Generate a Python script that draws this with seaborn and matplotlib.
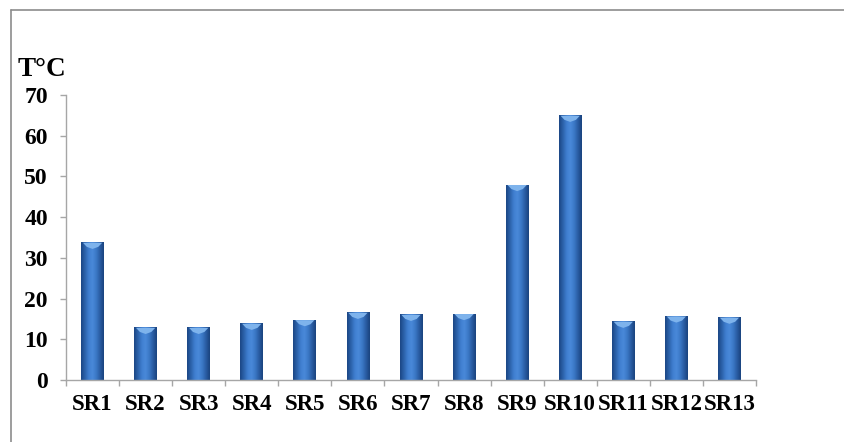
import numpy as np
import pandas as pd
import matplotlib
matplotlib.use("Agg")
import matplotlib.pyplot as plt
from matplotlib.colors import LinearSegmentedColormap
from matplotlib.patches import Polygon
from matplotlib.lines import Line2D
from matplotlib.ticker import FixedLocator
import seaborn as sns

# Temperatures per sampling site
sites = ["SR1", "SR2", "SR3", "SR4", "SR5", "SR6", "SR7",
         "SR8", "SR9", "SR10", "SR11", "SR12", "SR13"]
temperature = [33.7, 12.8, 12.8, 13.8, 14.7, 16.5, 16.0,
               16.2, 47.9, 64.9, 14.3, 15.6, 15.3]
y_ticks = [0, 10, 20, 30, 40, 50, 60, 70]
y_label = "T°C"

sns.set_theme(style="white")
plt.rcParams["font.family"] = ["Liberation Serif", "DejaVu Serif"]
plt.rcParams["font.weight"] = "bold"

df = pd.DataFrame({"site": sites, "temp": temperature})

fig = plt.figure(figsize=(8.44, 4.42), dpi=100)
ax = fig.add_axes([0.0782, 0.1403, 0.8175, 0.6447])

sns.barplot(data=df, x="site", y="temp", color="#3d78c6", width=0.43,
            ax=ax, saturation=1)

# Cylinder-like shading on every bar
shade = LinearSegmentedColormap.from_list(
    "cyl", ["#1b4684", "#2c62aa", "#3f7ecf", "#4a8ada", "#3b78c6", "#2a5da3", "#1a437e"])
grad = np.linspace(0, 1, 64).reshape(1, -1)
for bar in ax.patches:
    x0, w = bar.get_x(), bar.get_width()
    h = bar.get_height()
    bar.set_facecolor("none")
    bar.set_edgecolor("none")
    ax.imshow(grad, cmap=shade, aspect="auto", extent=(x0, x0 + w, 0, h),
              zorder=2, interpolation="bicubic")
    d = 1.0
    cap = Polygon([(x0 + w * 0.08, h), (x0 + w * 0.92, h), (x0 + w * 0.75, h - d),
                   (x0 + w * 0.5, h - d * 1.5), (x0 + w * 0.25, h - d)],
                  closed=True, facecolor="#7eb3ec", edgecolor="none", zorder=3)
    ax.add_patch(cap)

ax.set_xlim(-0.5, len(sites) - 0.5)
ax.set_ylim(0, 70)
ax.set_yticks(y_ticks)
ax.set_xlabel("")
ax.set_ylabel("")

axis_gray = "#a6a6a6"
for side in ["top", "right"]:
    ax.spines[side].set_visible(False)
for side in ["left", "bottom"]:
    ax.spines[side].set_visible(True)
    ax.spines[side].set_color(axis_gray)
    ax.spines[side].set_linewidth(1.0)

ax.xaxis.set_minor_locator(FixedLocator(np.arange(-0.5, len(sites), 1.0)))
ax.tick_params(axis="x", which="major", length=0, pad=10, labelsize=16.5,
               labelcolor="black")
ax.tick_params(axis="x", which="minor", length=4.5, width=1, color=axis_gray,
               direction="out", bottom=True)
ax.tick_params(axis="y", which="major", length=4.5, width=1, color=axis_gray,
               direction="out", left=True, pad=8.5, labelsize=17, labelcolor="black")
for lab in ax.get_xticklabels() + ax.get_yticklabels():
    lab.set_fontweight("bold")

fig.text(0.021, 0.842, y_label, fontsize=19.5, fontweight="bold",
         ha="left", va="center", color="black")

# Page frame lines along the top and left
frame_gray = "#8c8c8c"
fig.add_artist(Line2D([0.0125, 1.0], [0.977, 0.977], transform=fig.transFigure,
                      color=frame_gray, linewidth=1.2))
fig.add_artist(Line2D([0.0125, 0.0125], [0.0, 0.977], transform=fig.transFigure,
                      color=frame_gray, linewidth=1.2))

fig.savefig("out.png", dpi=100, facecolor="white")
